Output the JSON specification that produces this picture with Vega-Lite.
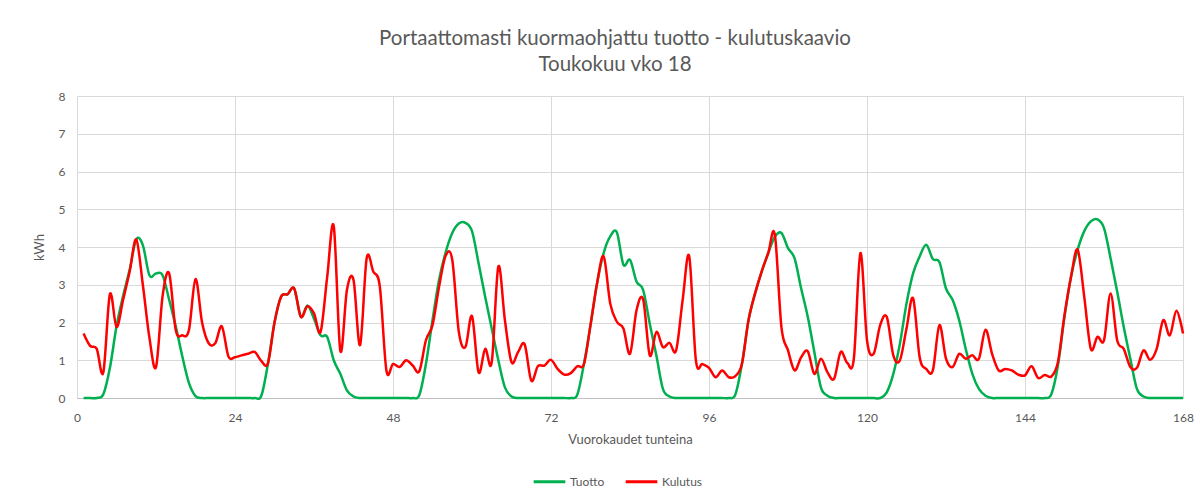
{
"$schema": "https://vega.github.io/schema/vega-lite/v6.json",
"width": 1106, "height": 302,
"autosize": {"type": "none"},
"padding": {"left": 77, "top": 96, "right": 17, "bottom": 100},
"background": "white",
"title": {"text": ["Portaattomasti kuormaohjattu tuotto - kulutuskaavio", "Toukokuu vko 18"], "fontSize": 20.5, "font": "Lato", "fontWeight": "normal", "color": "#595959", "lineHeight": 26, "anchor": "middle", "offset": 15, "dx": -15},
"data": {"values": [
{"h":1,"Tuotto":0,"Kulutus":1.71},{"h":2,"Tuotto":0,"Kulutus":1.38},{"h":3,"Tuotto":0,"Kulutus":1.3},{"h":4,"Tuotto":0.1,"Kulutus":0.68},{"h":5,"Tuotto":0.8,"Kulutus":2.75},{"h":6,"Tuotto":1.9,"Kulutus":1.88},{"h":7,"Tuotto":2.7,"Kulutus":2.6},{"h":8,"Tuotto":3.4,"Kulutus":3.35},{"h":9,"Tuotto":4.2,"Kulutus":4.2},{"h":10,"Tuotto":4.05,"Kulutus":3.0},{"h":11,"Tuotto":3.25,"Kulutus":1.6},{"h":12,"Tuotto":3.3,"Kulutus":0.82},
{"h":13,"Tuotto":3.25,"Kulutus":2.7},{"h":14,"Tuotto":2.6,"Kulutus":3.3},{"h":15,"Tuotto":1.9,"Kulutus":1.8},{"h":16,"Tuotto":1.1,"Kulutus":1.66},{"h":17,"Tuotto":0.4,"Kulutus":1.8},{"h":18,"Tuotto":0.05,"Kulutus":3.15},{"h":19,"Tuotto":0,"Kulutus":2.0},{"h":20,"Tuotto":0,"Kulutus":1.45},{"h":21,"Tuotto":0,"Kulutus":1.45},{"h":22,"Tuotto":0,"Kulutus":1.9},{"h":23,"Tuotto":0,"Kulutus":1.1},{"h":24,"Tuotto":0,"Kulutus":1.08},
{"h":25,"Tuotto":0,"Kulutus":1.13},{"h":26,"Tuotto":0,"Kulutus":1.17},{"h":27,"Tuotto":0,"Kulutus":1.22},{"h":28,"Tuotto":0.06,"Kulutus":0.98},{"h":29,"Tuotto":0.9,"Kulutus":0.92},{"h":30,"Tuotto":2.0,"Kulutus":2.0},{"h":31,"Tuotto":2.68,"Kulutus":2.68},{"h":32,"Tuotto":2.75,"Kulutus":2.75},{"h":33,"Tuotto":2.9,"Kulutus":2.9},{"h":34,"Tuotto":2.15,"Kulutus":2.15},{"h":35,"Tuotto":2.45,"Kulutus":2.43},{"h":36,"Tuotto":2.1,"Kulutus":2.24},
{"h":37,"Tuotto":1.66,"Kulutus":1.75},{"h":38,"Tuotto":1.62,"Kulutus":3.2},{"h":39,"Tuotto":1.0,"Kulutus":4.55},{"h":40,"Tuotto":0.64,"Kulutus":1.25},{"h":41,"Tuotto":0.2,"Kulutus":2.86},{"h":42,"Tuotto":0.04,"Kulutus":3.13},{"h":43,"Tuotto":0,"Kulutus":1.4},{"h":44,"Tuotto":0,"Kulutus":3.7},{"h":45,"Tuotto":0,"Kulutus":3.35},{"h":46,"Tuotto":0,"Kulutus":2.95},{"h":47,"Tuotto":0,"Kulutus":0.73},{"h":48,"Tuotto":0,"Kulutus":0.9},
{"h":49,"Tuotto":0,"Kulutus":0.82},{"h":50,"Tuotto":0,"Kulutus":1.0},{"h":51,"Tuotto":0,"Kulutus":0.86},{"h":52,"Tuotto":0.08,"Kulutus":0.71},{"h":53,"Tuotto":0.9,"Kulutus":1.53},{"h":54,"Tuotto":2.06,"Kulutus":1.93},{"h":55,"Tuotto":3.13,"Kulutus":2.95},{"h":56,"Tuotto":3.86,"Kulutus":3.77},{"h":57,"Tuotto":4.37,"Kulutus":3.66},{"h":58,"Tuotto":4.62,"Kulutus":1.75},{"h":59,"Tuotto":4.64,"Kulutus":1.35},{"h":60,"Tuotto":4.42,"Kulutus":2.17},
{"h":61,"Tuotto":3.57,"Kulutus":0.68},{"h":62,"Tuotto":2.68,"Kulutus":1.3},{"h":63,"Tuotto":1.84,"Kulutus":0.95},{"h":64,"Tuotto":1.0,"Kulutus":3.48},{"h":65,"Tuotto":0.28,"Kulutus":2.06},{"h":66,"Tuotto":0.04,"Kulutus":0.95},{"h":67,"Tuotto":0,"Kulutus":1.22},{"h":68,"Tuotto":0,"Kulutus":1.42},{"h":69,"Tuotto":0,"Kulutus":0.46},{"h":70,"Tuotto":0,"Kulutus":0.84},{"h":71,"Tuotto":0,"Kulutus":0.86},{"h":72,"Tuotto":0,"Kulutus":1.01},
{"h":73,"Tuotto":0,"Kulutus":0.77},{"h":74,"Tuotto":0,"Kulutus":0.62},{"h":75,"Tuotto":0,"Kulutus":0.66},{"h":76,"Tuotto":0.09,"Kulutus":0.84},{"h":77,"Tuotto":0.9,"Kulutus":0.9},{"h":78,"Tuotto":1.93,"Kulutus":1.93},{"h":79,"Tuotto":3.04,"Kulutus":3.04},{"h":80,"Tuotto":3.84,"Kulutus":3.75},{"h":81,"Tuotto":4.28,"Kulutus":2.5},{"h":82,"Tuotto":4.39,"Kulutus":2.02},{"h":83,"Tuotto":3.53,"Kulutus":1.84},{"h":84,"Tuotto":3.66,"Kulutus":1.17},
{"h":85,"Tuotto":3.08,"Kulutus":2.33},{"h":86,"Tuotto":2.86,"Kulutus":2.61},{"h":87,"Tuotto":1.97,"Kulutus":1.13},{"h":88,"Tuotto":1.13,"Kulutus":1.75},{"h":89,"Tuotto":0.24,"Kulutus":1.35},{"h":90,"Tuotto":0.04,"Kulutus":1.46},{"h":91,"Tuotto":0,"Kulutus":1.26},{"h":92,"Tuotto":0,"Kulutus":2.6},{"h":93,"Tuotto":0,"Kulutus":3.75},{"h":94,"Tuotto":0,"Kulutus":1.01},{"h":95,"Tuotto":0,"Kulutus":0.9},{"h":96,"Tuotto":0,"Kulutus":0.8},
{"h":97,"Tuotto":0,"Kulutus":0.55},{"h":98,"Tuotto":0,"Kulutus":0.73},{"h":99,"Tuotto":0,"Kulutus":0.55},{"h":100,"Tuotto":0.09,"Kulutus":0.58},{"h":101,"Tuotto":0.9,"Kulutus":0.9},{"h":102,"Tuotto":2.06,"Kulutus":2.06},{"h":103,"Tuotto":2.77,"Kulutus":2.77},{"h":104,"Tuotto":3.35,"Kulutus":3.35},{"h":105,"Tuotto":3.84,"Kulutus":3.84},{"h":106,"Tuotto":4.27,"Kulutus":4.33},{"h":107,"Tuotto":4.37,"Kulutus":1.88},{"h":108,"Tuotto":3.97,"Kulutus":1.26},
{"h":109,"Tuotto":3.7,"Kulutus":0.73},{"h":110,"Tuotto":2.9,"Kulutus":1.08},{"h":111,"Tuotto":2.15,"Kulutus":1.24},{"h":112,"Tuotto":1.22,"Kulutus":0.64},{"h":113,"Tuotto":0.28,"Kulutus":1.04},{"h":114,"Tuotto":0.06,"Kulutus":0.68},{"h":115,"Tuotto":0,"Kulutus":0.51},{"h":116,"Tuotto":0,"Kulutus":1.22},{"h":117,"Tuotto":0,"Kulutus":0.93},{"h":118,"Tuotto":0,"Kulutus":1.04},{"h":119,"Tuotto":0,"Kulutus":3.84},{"h":120,"Tuotto":0,"Kulutus":1.53},
{"h":121,"Tuotto":0,"Kulutus":1.17},{"h":122,"Tuotto":0,"Kulutus":1.93},{"h":123,"Tuotto":0.15,"Kulutus":2.15},{"h":124,"Tuotto":0.64,"Kulutus":1.13},{"h":125,"Tuotto":1.44,"Kulutus":1.0},{"h":126,"Tuotto":2.5,"Kulutus":1.84},{"h":127,"Tuotto":3.3,"Kulutus":2.64},{"h":128,"Tuotto":3.75,"Kulutus":1.08},{"h":129,"Tuotto":4.06,"Kulutus":0.77},{"h":130,"Tuotto":3.68,"Kulutus":0.73},{"h":131,"Tuotto":3.6,"Kulutus":1.93},{"h":132,"Tuotto":2.9,"Kulutus":1.04},
{"h":133,"Tuotto":2.6,"Kulutus":0.82},{"h":134,"Tuotto":2.06,"Kulutus":1.17},{"h":135,"Tuotto":1.3,"Kulutus":1.04},{"h":136,"Tuotto":0.64,"Kulutus":1.13},{"h":137,"Tuotto":0.24,"Kulutus":1.04},{"h":138,"Tuotto":0.06,"Kulutus":1.81},{"h":139,"Tuotto":0,"Kulutus":1.17},{"h":140,"Tuotto":0,"Kulutus":0.73},{"h":141,"Tuotto":0,"Kulutus":0.77},{"h":142,"Tuotto":0,"Kulutus":0.73},{"h":143,"Tuotto":0,"Kulutus":0.62},{"h":144,"Tuotto":0,"Kulutus":0.6},
{"h":145,"Tuotto":0,"Kulutus":0.84},{"h":146,"Tuotto":0,"Kulutus":0.53},{"h":147,"Tuotto":0,"Kulutus":0.61},{"h":148,"Tuotto":0.1,"Kulutus":0.57},{"h":149,"Tuotto":0.86,"Kulutus":0.95},{"h":150,"Tuotto":2.15,"Kulutus":2.2},{"h":151,"Tuotto":3.22,"Kulutus":3.22},{"h":152,"Tuotto":3.93,"Kulutus":3.93},{"h":153,"Tuotto":4.42,"Kulutus":2.68},{"h":154,"Tuotto":4.68,"Kulutus":1.3},{"h":155,"Tuotto":4.73,"Kulutus":1.62},{"h":156,"Tuotto":4.5,"Kulutus":1.53},
{"h":157,"Tuotto":3.7,"Kulutus":2.77},{"h":158,"Tuotto":2.82,"Kulutus":1.53},{"h":159,"Tuotto":1.88,"Kulutus":1.3},{"h":160,"Tuotto":1.04,"Kulutus":0.82},{"h":161,"Tuotto":0.24,"Kulutus":0.8},{"h":162,"Tuotto":0.04,"Kulutus":1.26},{"h":163,"Tuotto":0,"Kulutus":1.01},{"h":164,"Tuotto":0,"Kulutus":1.3},{"h":165,"Tuotto":0,"Kulutus":2.06},{"h":166,"Tuotto":0,"Kulutus":1.66},{"h":167,"Tuotto":0,"Kulutus":2.31},{"h":168,"Tuotto":0,"Kulutus":1.71}
]},
"transform": [{"fold": ["Tuotto", "Kulutus"], "as": ["sarja", "kWh"]}],
"mark": {"type": "line", "interpolate": "cardinal", "strokeWidth": 2.5},
"encoding": {
  "x": {"field": "h", "type": "quantitative", "scale": {"domain": [0, 168], "nice": false},
        "axis": {"values": [0, 24, 48, 72, 96, 120, 144, 168], "title": "Vuorokaudet tunteina", "grid": true, "ticks": false, "domain": true, "domainColor": "#bfbfbf", "domainWidth": 1, "labelPadding": 14, "titlePadding": 10, "labelFlush": false}},
  "y": {"field": "kWh", "type": "quantitative", "scale": {"domain": [0, 8], "nice": false},
        "axis": {"values": [0, 1, 2, 3, 4, 5, 6, 7, 8], "title": "kWh", "domain": false, "ticks": false, "labelPadding": 12, "titlePadding": 12}},
  "color": {"field": "sarja", "type": "nominal", "sort": ["Tuotto", "Kulutus"],
            "scale": {"domain": ["Tuotto", "Kulutus"], "range": ["#00b050", "#ff0000"]},
            "legend": {"title": null, "orient": "none", "direction": "horizontal", "legendX": 455, "legendY": 368, "symbolType": "stroke", "symbolStrokeWidth": 3, "symbolSize": 1000, "labelFontSize": 12, "labelColor": "#595959", "labelFont": "Lato", "labelOffset": 3, "columnPadding": 14}}
},
"config": {
  "view": {"stroke": null},
  "font": "Lato",
  "axis": {"gridColor": "#d9d9d9", "gridWidth": 1, "labelColor": "#595959", "labelFontSize": 12, "labelFont": "Lato", "titleColor": "#595959", "titleFontSize": 13, "titleFont": "Lato", "titleFontWeight": "normal"}
}
}
